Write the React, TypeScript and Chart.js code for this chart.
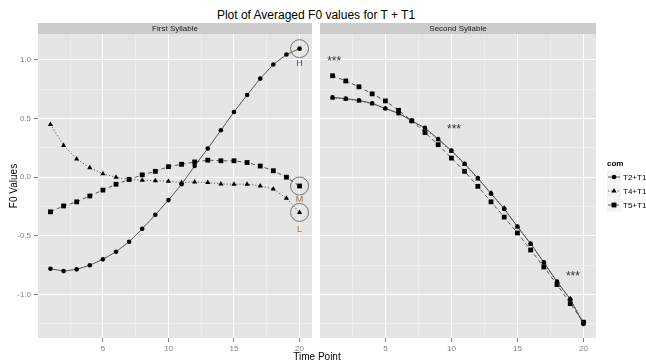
import React, { useEffect, useRef } from 'react';
import { Chart, registerables } from 'chart.js';

Chart.register(...registerables);

// ---------- data ----------
const timePoints = [1, 2, 3, 4, 5, 6, 7, 8, 9, 10, 11, 12, 13, 14, 15, 16, 17, 18, 19, 20];
const seriesNames = ['T2+T1', 'T4+T1', 'T5+T1'];
const stripLabels = ['First Syllable', 'Second Syllable'];

const t2First = [-0.78, -0.8, -0.785, -0.75, -0.7, -0.635, -0.55, -0.44, -0.32, -0.195, -0.06, 0.095, 0.245, 0.4, 0.556, 0.7, 0.84, 0.96, 1.045, 1.095];
const t4First = [0.45, 0.27, 0.155, 0.08, 0.03, 0.0, -0.02, -0.025, -0.03, -0.035, -0.045, -0.04, -0.045, -0.057, -0.06, -0.06, -0.074, -0.1, -0.18, -0.3];
const t5First = [-0.295, -0.245, -0.21, -0.16, -0.11, -0.06, -0.02, 0.02, 0.05, 0.09, 0.11, 0.13, 0.145, 0.14, 0.14, 0.125, 0.095, 0.055, 0.0, -0.075];

const t2Second = [0.68, 0.67, 0.655, 0.63, 0.585, 0.546, 0.48, 0.42, 0.325, 0.228, 0.115, -0.007, -0.14, -0.27, -0.42, -0.566, -0.725, -0.89, -1.04, -1.25];
const t4Second = [0.675, 0.665, 0.65, 0.625, 0.585, 0.54, 0.48, 0.41, 0.32, 0.22, 0.11, -0.015, -0.135, -0.265, -0.425, -0.57, -0.73, -0.895, -1.035, -1.24];
const t5Second = [0.864, 0.82, 0.77, 0.71, 0.65, 0.57, 0.48, 0.38, 0.277, 0.163, 0.05, -0.078, -0.21, -0.34, -0.475, -0.62, -0.765, -0.915, -1.077, -1.235];

const xTicks = [2.5, 5, 7.5, 10, 12.5, 15, 17.5, 20];
const yTicks = [-1.25, -1, -0.75, -0.5, -0.25, 0, 0.25, 0.5, 0.75, 1];
const xRange = [0.05, 20.95];
const yRange = [-1.37, 1.22];

// annotations (data coordinates)
const starX = [1.12, 10.2, 19.2];
const starY = [1.014, 0.432, -0.815];
const letterLabels = ['H', 'M', 'L'];
const letterY = [0.965, -0.19, -0.447];
const circledValues = [t2First[19], t5First[19], t4First[19]];
const circledX = 20;

// ---------- styles ----------
const FONT = '"Liberation Sans", Arial, sans-serif';
const lineColor = '#333333';
const pointStyles = ['circle', 'triangle', 'rect'];
const pointRadii = [2.3, 3, 3.4];
const lineDashes = [[], [1.2, 2], [4, 3]];
const letterColors = ['#2B5797', '#A8682E', '#A8682E'];
const STRIP_TOP = 23;

function isMajorX(v: number) { return Math.abs(v % 5) < 1e-9; }
function isMajorY(v: number) { return Math.abs(v * 2 - Math.round(v * 2)) < 1e-9; }

function drawShape(ctx: CanvasRenderingContext2D, style: string, x: number, y: number, r: number) {
  ctx.beginPath();
  if (style === 'circle') {
    ctx.arc(x, y, r, 0, Math.PI * 2);
  } else if (style === 'triangle') {
    for (let k = 0; k < 3; k++) {
      const a = (k * 2 * Math.PI) / 3;
      const px = x + Math.sin(a) * r;
      const py = y - Math.cos(a) * r;
      if (k === 0) ctx.moveTo(px, py); else ctx.lineTo(px, py);
    }
    ctx.closePath();
  } else {
    const s = Math.SQRT1_2 * r;
    ctx.rect(x - s, y - s, 2 * s, 2 * s);
  }
  ctx.fillStyle = '#000';
  ctx.fill();
}

function panelPlugin(idx: number) {
  return {
    id: 'panelDeco' + idx,
    beforeDraw(chart: any) {
      const { ctx, chartArea: a } = chart;
      ctx.save();
      ctx.fillStyle = '#E5E5E5';
      ctx.fillRect(a.left, a.top, a.right - a.left, a.bottom - a.top);
      ctx.fillStyle = '#CCCCCC';
      ctx.fillRect(a.left, STRIP_TOP, a.right - a.left, a.top - STRIP_TOP);
      ctx.fillStyle = '#1A1A1A';
      ctx.font = `8px ${FONT}`;
      ctx.textAlign = 'center';
      ctx.textBaseline = 'middle';
      ctx.fillText(stripLabels[idx], (a.left + a.right) / 2, (STRIP_TOP + a.top) / 2 + 0.5);
      ctx.restore();
    },
    afterDatasetsDraw(chart: any) {
      const { ctx } = chart;
      const xs = chart.scales.x;
      const ys = chart.scales.y;
      ctx.save();
      if (idx === 0) {
        circledValues.forEach((v, i) => {
          const px = xs.getPixelForValue(circledX);
          const py = ys.getPixelForValue(v);
          ctx.beginPath();
          ctx.arc(px, py, 9, 0, Math.PI * 2);
          ctx.strokeStyle = '#555';
          ctx.lineWidth = 0.8;
          ctx.stroke();
          ctx.fillStyle = letterColors[i];
          ctx.font = `9px ${FONT}`;
          ctx.textAlign = 'center';
          ctx.textBaseline = 'middle';
          ctx.fillText(letterLabels[i], px, ys.getPixelForValue(letterY[i]));
        });
      } else {
        ctx.fillStyle = '#333';
        ctx.font = `12px ${FONT}`;
        ctx.textAlign = 'center';
        ctx.textBaseline = 'alphabetic';
        starX.forEach((sx, i) => {
          ctx.fillText('***', xs.getPixelForValue(sx), ys.getPixelForValue(starY[i]) + 6.8);
        });
      }
      ctx.restore();
    },
    afterDraw(chart: any) {
      if (idx !== 1) return;
      const { ctx, chartArea: a } = chart;
      const lx = a.right + 11;
      const titleBase = a.top + 132;
      ctx.save();
      ctx.fillStyle = '#000';
      ctx.font = `bold 8px ${FONT}`;
      ctx.textAlign = 'left';
      ctx.textBaseline = 'alphabetic';
      ctx.fillText('com', lx, titleBase);
      seriesNames.forEach((name, i) => {
        const cy = titleBase + 11 + i * 14;
        ctx.fillStyle = '#F2F2F2';
        ctx.fillRect(lx, cy - 6.5, 14, 13);
        ctx.beginPath();
        ctx.setLineDash(lineDashes[i]);
        ctx.strokeStyle = lineColor;
        ctx.lineWidth = 0.8;
        ctx.moveTo(lx + 1, cy);
        ctx.lineTo(lx + 13, cy);
        ctx.stroke();
        ctx.setLineDash([]);
        drawShape(ctx, pointStyles[i], lx + 7, cy, pointRadii[i]);
        ctx.fillStyle = '#000';
        ctx.font = `8px ${FONT}`;
        ctx.textBaseline = 'middle';
        ctx.fillText(name, lx + 16, cy + 0.5);
      });
      ctx.restore();
    },
  };
}

function buildConfig(idx: number): any {
  const sets = idx === 0 ? [t2First, t4First, t5First] : [t2Second, t4Second, t5Second];
  return {
    type: 'line',
    data: {
      datasets: sets.map((vals, i) => ({
        label: seriesNames[i],
        data: timePoints.map((t, j) => ({ x: t, y: vals[j] })),
        borderColor: lineColor,
        borderWidth: 0.8,
        borderDash: lineDashes[i],
        pointStyle: pointStyles[i],
        pointRadius: pointRadii[i],
        pointBackgroundColor: '#000',
        pointBorderColor: '#000',
        pointBorderWidth: 0,
        tension: 0,
        fill: false,
      })),
    },
    options: {
      animation: false,
      responsive: false,
      maintainAspectRatio: false,
      events: [],
      layout: { padding: { left: idx === 0 ? 0 : 2, right: idx === 0 ? 1 : 50, top: 34, bottom: 0 } },
      plugins: { legend: { display: false }, tooltip: { enabled: false }, title: { display: false } },
      scales: {
        x: {
          type: 'linear',
          min: xRange[0],
          max: xRange[1],
          afterBuildTicks: (s: any) => { s.ticks = xTicks.map((v) => ({ value: v })); },
          afterFit: (s: any) => { s.height = 24; },
          border: { display: false },
          grid: {
            color: (c: any) => (c.tick && isMajorX(c.tick.value) ? '#FFFFFF' : '#F2F2F2'),
            lineWidth: (c: any) => (c.tick && isMajorX(c.tick.value) ? 1 : 0.7),
            tickColor: (c: any) => (c.tick && isMajorX(c.tick.value) ? '#7F7F7F' : 'rgba(0,0,0,0)'),
            tickLength: 4,
            drawTicks: true,
          },
          ticks: {
            autoSkip: false,
            maxRotation: 0,
            padding: 2,
            color: '#7F7F7F',
            font: { family: FONT, size: 8 },
            callback: (v: any) => (isMajorX(Number(v)) ? String(v) : ''),
          },
        },
        y: {
          type: 'linear',
          min: yRange[0],
          max: yRange[1],
          afterBuildTicks: (s: any) => { s.ticks = yTicks.map((v) => ({ value: v })); },
          afterFit: (s: any) => { s.width = idx === 0 ? 38 : 0; },
          border: { display: false },
          title: {
            display: idx === 0,
            text: 'F0 Values',
            color: '#000',
            font: { family: FONT, size: 10 },
            padding: { top: 8, bottom: 0 },
          },
          grid: {
            color: (c: any) => (c.tick && isMajorY(c.tick.value) ? '#FFFFFF' : '#F2F2F2'),
            lineWidth: (c: any) => (c.tick && isMajorY(c.tick.value) ? 1 : 0.7),
            tickColor: (c: any) => (c.tick && isMajorY(c.tick.value) ? '#7F7F7F' : 'rgba(0,0,0,0)'),
            tickLength: 4,
            drawTicks: idx === 0,
          },
          ticks: {
            display: idx === 0,
            autoSkip: false,
            padding: 3,
            color: '#7F7F7F',
            font: { family: FONT, size: 8 },
            callback: (v: any) => (isMajorY(Number(v)) ? Number(v).toFixed(1) : ''),
          },
        },
      },
    },
    plugins: [panelPlugin(idx)],
  };
}

export default function App() {
  const ref1 = useRef<HTMLCanvasElement>(null);
  const ref2 = useRef<HTMLCanvasElement>(null);

  useEffect(() => {
    document.body.style.overflow = 'hidden';
    const c1 = new Chart(ref1.current as HTMLCanvasElement, buildConfig(0));
    const c2 = new Chart(ref2.current as HTMLCanvasElement, buildConfig(1));
    return () => { c1.destroy(); c2.destroy(); };
  }, []);

  return (
    <div style={{ position: 'absolute', left: 0, top: 0, width: 646, height: 362, background: '#fff', fontFamily: FONT }}>
      <div style={{ position: 'absolute', left: 0, top: 8, width: 632, height: 14, lineHeight: '14px', fontSize: 12, textAlign: 'center', color: '#000' }}>
        Plot of Averaged F0 values for T + T1
      </div>
      <canvas ref={ref1} width={316} height={362} style={{ position: 'absolute', left: 0, top: 0, width: 316, height: 362 }} />
      <canvas ref={ref2} width={330} height={362} style={{ position: 'absolute', left: 316, top: 0, width: 330, height: 362 }} />
      <div style={{ position: 'absolute', left: 0, top: 351, width: 634, height: 11, lineHeight: '11px', fontSize: 10, textAlign: 'center', color: '#000' }}>
        Time Point
      </div>
    </div>
  );
}
